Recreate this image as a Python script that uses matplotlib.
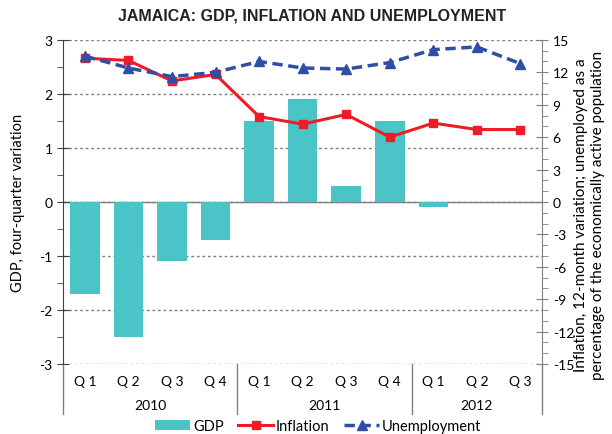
import numpy as np
import matplotlib.pyplot as plt
from matplotlib.transforms import blended_transform_factory
from matplotlib.ticker import MultipleLocator

plt.rcParams['font.family'] = ['Lato', 'DejaVu Sans']

# Datos
quarters = ["Q 1", "Q 2", "Q 3", "Q 4", "Q 1", "Q 2", "Q 3", "Q 4", "Q 1", "Q 2", "Q 3"]
years = ["2010", "2011", "2012"]
year_len = [4, 4, 3]
gdp = [-1.7, -2.5, -1.1, -0.7, 1.5, 1.9, 0.3, 1.5, -0.1, np.nan, np.nan]
inflation = [13.3, 13.1, 11.2, 11.8, 7.9, 7.2, 8.1, 6.0, 7.3, 6.7, 6.7]
unemployment = [13.5, 12.4, 11.6, 12.0, 13.0, 12.4, 12.3, 12.9, 14.1, 14.35, 12.8]

teal = '#4BC4C8'
red = '#EE1C25'
blue = '#2F4FA6'
grey = '#808080'

x = np.arange(len(quarters))

fig = plt.figure(figsize=(6.12, 4.35), dpi=100)
ax = fig.add_axes([0.103, 0.161, 0.783, 0.745])
ax2 = ax.twinx()

ax.bar(x, gdp, width=0.68, color=teal, label='GDP', zorder=2)
ax.set_xlim(-0.5, len(quarters) - 0.5)
ax.set_ylim(-3, 3)
ax.yaxis.set_minor_locator(MultipleLocator(0.5))
ax.set_yticks(range(-3, 4))
ax.set_yticklabels([str(v) for v in range(-3, 4)], fontsize=10)
ax.grid(axis='y', linestyle=(0, (2, 2)), color=grey, lw=1, zorder=0)
ax.axhline(0, color=grey, lw=1, zorder=1)
ax.set_xticks(x)
ax.set_xticklabels(quarters, fontsize=10)
ax.tick_params(axis='x', length=0, pad=8)
ax.tick_params(axis='y', which='major', direction='inout', length=8, color='#404040')
ax.tick_params(axis='y', which='minor', direction='out', length=4, color='#404040')
ax.set_ylabel('GDP, four-quarter variation', fontsize=10.5, labelpad=10)
for s in ['top', 'bottom', 'right']:
    ax.spines[s].set_visible(False)
ax.spines['left'].set_color('#404040')

l1, = ax2.plot(x, inflation, color=red, lw=2.2, marker='s', markersize=6, label='Inflation')
l2, = ax2.plot(x, unemployment, color=blue, lw=2.5, ls=(0, (3, 1.6)), marker='^',
               markersize=7, label='Unemployment')
ax2.set_ylim(-15, 15)
ax2.set_yticks(range(-15, 16, 3))
ax2.set_yticklabels([str(v) for v in range(-15, 16, 3)], fontsize=10)
ax2.yaxis.set_minor_locator(MultipleLocator(1))
ax2.tick_params(axis='y', which='major', direction='inout', length=8, color=grey)
ax2.tick_params(axis='y', which='minor', direction='out', length=4, color=grey)
for s in ['top', 'bottom', 'left']:
    ax2.spines[s].set_visible(False)
ax2.spines['right'].set_color(grey)

# titulo del eje derecho, en dos lineas
fig.text(0.963, 0.505, 'Inflation, 12-month variation; unemployed as a\n'
         'percentage of the economically active population',
         rotation=90, ha='center', va='center', fontsize=11, linespacing=1.3)

# separadores y etiquetas de anos
trans = blended_transform_factory(ax.transData, ax.transAxes)
start = 0
edges = [-0.5]
for yr, n in zip(years, year_len):
    ax.text(start + (n - 1) / 2, -0.127, yr, transform=trans, ha='center', va='center',
            fontsize=10)
    start += n
    edges.append(start - 0.5)
for e in edges:
    ax.plot([e, e], [0, -0.155], transform=trans, color=grey, lw=1, clip_on=False)

fig.suptitle('JAMAICA: GDP, INFLATION AND UNEMPLOYMENT', family='Liberation Sans',
             fontweight='bold', fontsize=11.5, x=0.51, y=0.98, color='#222222')

handles = [ax.patches[0], l1, l2]
fig.legend(handles, ['GDP', 'Inflation', 'Unemployment'], loc='center',
           bbox_to_anchor=(0.52, 0.018), ncol=3, frameon=False, fontsize=10.5,
           handlelength=2.4, handletextpad=0.2, columnspacing=1.0,
           borderpad=0.1)

plt.savefig('out.png', dpi=100)
